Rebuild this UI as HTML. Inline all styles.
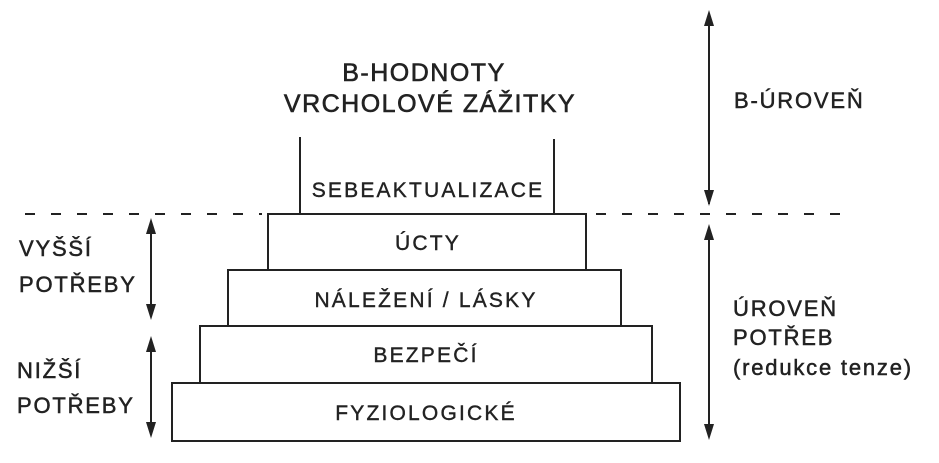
<!DOCTYPE html>
<html><head><meta charset="utf-8"><style>
html,body{margin:0;padding:0;background:#fff;}
svg{display:block;}
text{font-family:"Liberation Sans",sans-serif;fill:#222;}
</style></head><body>
<svg width="939" height="463" viewBox="0 0 939 463" xmlns="http://www.w3.org/2000/svg">
<g stroke="#222" stroke-width="2" fill="none">
<line x1="25" y1="214" x2="262" y2="214" stroke-dasharray="10,16"/>
<line x1="596" y1="214" x2="845" y2="214" stroke-dasharray="10,16"/>
<line x1="300" y1="137" x2="300" y2="214"/>
<line x1="554" y1="139" x2="554" y2="214"/>
<rect x="268" y="214" width="318" height="56"/>
<rect x="228" y="270" width="393" height="56"/>
<rect x="200" y="326" width="452" height="57"/>
<rect x="172" y="383" width="508" height="58"/>
<line x1="151" y1="222" x2="151" y2="316"/>
<line x1="151" y1="340" x2="151" y2="434"/>
<line x1="709" y1="14" x2="709" y2="204"/>
<line x1="709" y1="228" x2="709" y2="436"/>
</g>
<g fill="#222">
<polygon points="151,218 146,234 156,234"/>
<polygon points="151,320 146,304 156,304"/>
<polygon points="151,336 146,352 156,352"/>
<polygon points="151,438 146,422 156,422"/>
<polygon points="709,10 704,26 714,26"/>
<polygon points="709,206 704,190 714,190"/>
<polygon points="709,224 704,240 714,240"/>
<polygon points="709,440 704,424 714,424"/>
</g>
<g font-size="25" text-anchor="middle" style="letter-spacing:1.5px" stroke="#222" stroke-width="0.6">
<text x="424" y="81">B-HODNOTY</text>
<text x="430" y="112">VRCHOLOVÉ ZÁŽITKY</text>
</g>
<g font-size="21" text-anchor="middle" style="letter-spacing:2.2px" stroke="#222" stroke-width="0.4">
<text x="428" y="197">SEBEAKTUALIZACE</text>
<text x="428" y="250">ÚCTY</text>
<text x="426" y="307">NÁLEŽENÍ / LÁSKY</text>
<text x="426" y="362">BEZPEČÍ</text>
<text x="426" y="420">FYZIOLOGICKÉ</text>
</g>
<g font-size="22" style="letter-spacing:1.8px" stroke="#222" stroke-width="0.5">
<text x="734" y="108">B-ÚROVEŇ</text>
<text x="733" y="316">ÚROVEŇ</text>
<text x="733" y="345">POTŘEB</text>
<text x="733" y="375">(redukce tenze)</text>
<text x="19" y="256">VYŠŠÍ</text>
<text x="19" y="292">POTŘEBY</text>
<text x="17" y="378">NIŽŠÍ</text>
<text x="17" y="413">POTŘEBY</text>
</g>
</svg>
</body></html>
